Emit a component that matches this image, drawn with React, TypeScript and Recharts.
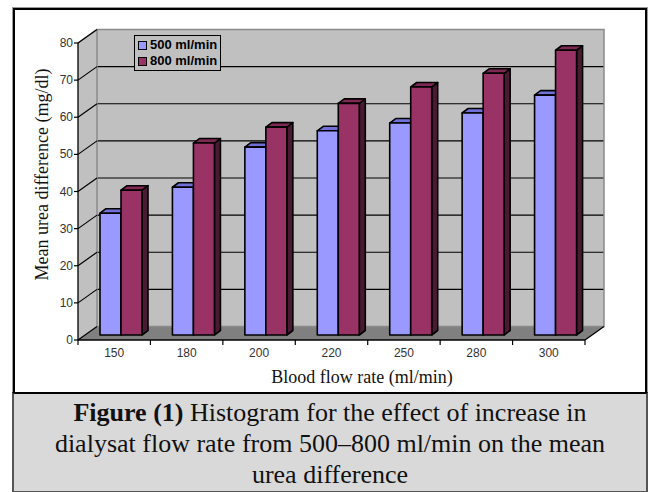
import React from 'react';
import { BarChart, Bar, XAxis, YAxis, CartesianGrid, ReferenceArea, Legend } from 'recharts';

// Blood flow rate categories (ml/min)
const flowRates = ['150', '180', '200', '220', '250', '280', '300'];
// Mean urea difference (mg/dl) at each dialysate flow rate
const dialysate500 = [32.8, 39.8, 50.6, 55.0, 57.1, 59.8, 64.6];
const dialysate800 = [39.0, 51.7, 56.0, 62.4, 66.8, 70.5, 76.7];
const seriesNames = ['500 ml/min', '800 ml/min'];
const yTicks = [0, 10, 20, 30, 40, 50, 60, 70, 80];

const data = flowRates.map((flow, i) => ({
  flow,
  d500: dialysate500[i],
  d800: dialysate800[i],
}));

// Oblique projection: shift from the back wall plane to the front edge of the floor
const DEPTH_X = -19;
const DEPTH_Y = 13.5;
// Columns stand part way into the depth; their own thickness
const COL_X = -12;
const COL_Y = 8.5;
const COL_DX = 6;
const COL_DY = -4.5;

const SANS = "'Liberation Sans', Arial, sans-serif";
const SERIF = "'Liberation Serif', 'Times New Roman', serif";

const palette = {
  blue: { front: '#9999FF', top: '#7070D8', side: '#4B4B99' },
  plum: { front: '#993366', top: '#7E2853', side: '#4A1A33' },
};

function Column3D(props: any) {
  const { x, y, width, height, colors } = props;
  if (x == null || y == null || !width || height == null) return null;
  const fx = x + COL_X;
  const fy = y + COL_Y;
  const w = width;
  const h = height;
  return (
    <g stroke="#000" strokeWidth={1.6} strokeLinejoin="round">
      <polygon
        points={`${fx + w},${fy} ${fx + w + COL_DX},${fy + COL_DY} ${fx + w + COL_DX},${fy + h + COL_DY} ${fx + w},${fy + h}`}
        fill={colors.side}
      />
      <polygon
        points={`${fx},${fy} ${fx + COL_DX},${fy + COL_DY} ${fx + w + COL_DX},${fy + COL_DY} ${fx + w},${fy}`}
        fill={colors.top}
      />
      <rect x={fx} y={fy} width={w} height={h} fill={colors.front} />
    </g>
  );
}

// Side wall, floor and front axis lines around the back wall rectangle
function Walls(props: any) {
  const { x, y, width: w, height: h } = props;
  if (x == null) return null;
  const fl = x + DEPTH_X;
  const bottom = y + h;
  const fb = bottom + DEPTH_Y;
  return (
    <g>
      <polygon
        points={`${x},${y} ${x},${bottom} ${fl},${fb} ${fl},${y + DEPTH_Y}`}
        fill="#C0C0C0"
      />
      <polygon
        points={`${x},${bottom} ${x + w},${bottom} ${x + w + DEPTH_X},${fb} ${fl},${fb}`}
        fill="#808080"
      />
      <rect x={x} y={y} width={w} height={h} fill="none" stroke="#8A8A8A" strokeWidth={1.5} />
      <line x1={x} y1={y} x2={fl} y2={y + DEPTH_Y} stroke="#8A8A8A" strokeWidth={1.5} />
      <line x1={fl} y1={y + DEPTH_Y} x2={fl} y2={fb} stroke="#000" strokeWidth={1.3} />
      <line x1={fl} y1={fb} x2={x + w + DEPTH_X} y2={fb} stroke="#000" strokeWidth={1.3} />
      <line x1={x + w + DEPTH_X} y1={fb} x2={x + w} y2={bottom} stroke="#000" strokeWidth={1.3} />
    </g>
  );
}

function DepthYTick(props: any) {
  const { x, y, payload } = props;
  const fx = x + DEPTH_X;
  const fy = y + DEPTH_Y;
  return (
    <g>
      <line x1={x} y1={y} x2={fx} y2={fy} stroke="#000" strokeWidth={1.2} />
      <line x1={fx - 4} y1={fy} x2={fx} y2={fy} stroke="#000" strokeWidth={1.2} />
      <text
        x={fx - 5}
        y={fy}
        textAnchor="end"
        dominantBaseline="central"
        fontFamily={SANS}
        fontSize={12}
        fill="#333"
      >
        {payload.value}
      </text>
    </g>
  );
}

function DepthXTick(props: any) {
  const { x, y, payload, index, visibleTicksCount } = props;
  const half = payload.offset ?? 0;
  const fx = x + DEPTH_X;
  const fy = y + DEPTH_Y;
  return (
    <g>
      <line x1={fx - half} y1={fy} x2={fx - half} y2={fy + 5} stroke="#000" strokeWidth={1.2} />
      {index === visibleTicksCount - 1 && (
        <line x1={fx + half} y1={fy} x2={fx + half} y2={fy + 5} stroke="#000" strokeWidth={1.2} />
      )}
      <text
        x={fx}
        y={fy + 13}
        textAnchor="middle"
        dominantBaseline="central"
        fontFamily={SANS}
        fontSize={12}
        fill="#333"
      >
        {payload.value}
      </text>
    </g>
  );
}

function LegendBox(props: any) {
  const { payload } = props;
  return (
    <div
      style={{
        border: '1px solid #000',
        background: '#C0C0C0',
        padding: '1px 3px 1px 3px',
        fontFamily: SANS,
        fontWeight: 'bold',
        fontSize: 13,
        lineHeight: '16px',
        color: '#000',
        whiteSpace: 'nowrap',
      }}
    >
      {(payload || []).map((entry: any) => (
        <div key={entry.value} style={{ display: 'flex', alignItems: 'center' }}>
          <span
            style={{
              display: 'inline-block',
              width: 7,
              height: 7,
              border: '1px solid #000',
              background: entry.color,
              marginRight: 3,
            }}
          />
          {entry.value}
        </div>
      ))}
    </div>
  );
}

export default function App() {
  return (
    <div style={{ position: 'absolute', left: 0, top: 0, width: 651, height: 492, background: '#fff' }}>
      <div
        style={{
          position: 'absolute',
          left: 13,
          top: 8,
          width: 630,
          height: 382,
          border: '2px solid #000',
          boxShadow: '0 0 0 1px #9A9A9A',
          background: '#fff',
        }}
      />
      <div
        style={{
          position: 'absolute',
          left: 12,
          top: 392,
          width: 632,
          height: 94,
          borderLeft: '2px solid #555',
          borderRight: '2px solid #555',
          borderBottom: '2px solid #555',
          borderTop: '2px solid #000',
          background: '#D9D9D9',
          fontFamily: SERIF,
          fontSize: 26,
          lineHeight: '31px',
          textAlign: 'center',
          color: '#111',
          paddingTop: 3,
          boxSizing: 'content-box',
        }}
      >
        <b>Figure (1)</b> Histogram for the effect of increase in
        <br />
        dialysat flow rate from 500–800 ml/min on the mean
        <br />
        urea difference
      </div>
      <div style={{ position: 'absolute', left: 0, top: 0 }}>
        <BarChart
          width={651}
          height={393}
          data={data}
          margin={{ top: 29.5, right: 47, bottom: 36.5, left: 57 }}
          barSize={21}
          barGap={0}
        >
          <CartesianGrid vertical={false} fill="#C0C0C0" fillOpacity={1} stroke="#000" strokeWidth={1.2} />
          <ReferenceArea y1={0} y2={80} shape={(p: any) => <Walls {...p} />} />
          <XAxis
            dataKey="flow"
            axisLine={false}
            tickLine={false}
            tickSize={0}
            tickMargin={0}
            height={30}
            interval={0}
            tick={(p: any) => <DepthXTick {...p} />}
          />
          <YAxis
            type="number"
            domain={[0, 80]}
            ticks={yTicks}
            interval={0}
            width={40}
            axisLine={false}
            tickLine={false}
            tickSize={0}
            tickMargin={0}
            tick={(p: any) => <DepthYTick {...p} />}
          />
          <Legend
            layout="vertical"
            align="center"
            verticalAlign="middle"
            content={(p: any) => <LegendBox {...p} />}
            wrapperStyle={{ left: 134, top: 35, width: 'auto', height: 'auto' }}
          />
          <Bar
            dataKey="d500"
            name={seriesNames[0]}
            fill={palette.blue.front}
            isAnimationActive={false}
            shape={(p: any) => <Column3D {...p} colors={palette.blue} />}
          />
          <Bar
            dataKey="d800"
            name={seriesNames[1]}
            fill={palette.plum.front}
            isAnimationActive={false}
            shape={(p: any) => <Column3D {...p} colors={palette.plum} />}
          />
          <text
            x={42}
            y={174.5}
            transform="rotate(-90 42 174.5)"
            textAnchor="middle"
            dominantBaseline="central"
            fontFamily={SERIF}
            fontSize={18}
            fill="#111"
          >
            Mean urea difference (mg/dl)
          </text>
          <text
            x={362}
            y={377}
            textAnchor="middle"
            dominantBaseline="central"
            fontFamily={SERIF}
            fontSize={18}
            fill="#111"
          >
            Blood flow rate (ml/min)
          </text>
        </BarChart>
      </div>
    </div>
  );
}
